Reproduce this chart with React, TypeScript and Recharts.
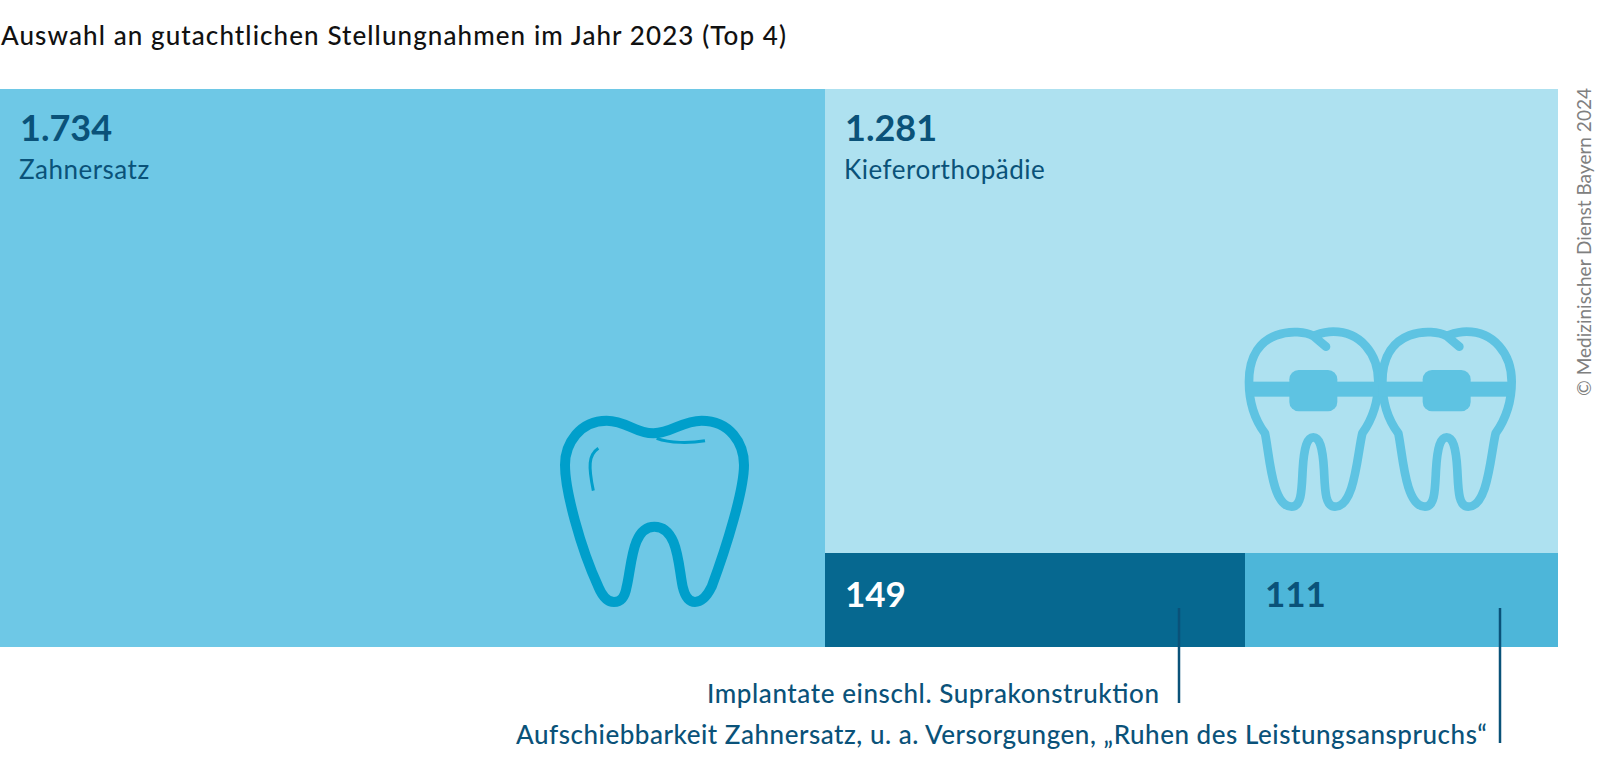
import React from "react";
import { Treemap } from "recharts";

const categories = ["Zahnersatz", "Kieferorthopädie", "Implantate einschl. Suprakonstruktion", "Aufschiebbarkeit Zahnersatz, u. a. Versorgungen, „Ruhen des Leistungsanspruchs“"];
const values = [1734, 1281, 149, 111];
const fills = ["#6EC8E6", "#AEE1F0", "#066890", "#4DB6D9"];
const labelColors = ["#0A5279", "#0A5279", "#FFFFFF", "#0A5279"];
const showName = [true, true, false, false];

const leaves = categories.map((name, i) => ({
  name,
  size: values[i],
  color: fills[i],
  labelColor: labelColors[i],
  showName: showName[i],
}));

// Nested so the library's squarify stacks Kieferorthopädie above the two small cells.
const data = [
  leaves[0],
  { name: "Rest", children: [leaves[1], { name: "Klein", children: [leaves[2], leaves[3]] }] },
];

const FONT = "Lato, 'Noto Sans', sans-serif";
const DARK = "#0A5279";

const Cell = (props: any) => {
  const { x, y, width, height, color, labelColor, showName: withName, name, value, size } = props;
  if (!color) return null;
  const v = value ?? size;
  const small = !withName;
  return (
    <g>
      <rect x={x} y={y} width={width} height={height} fill={color} stroke="none" />
      <text
        x={x + 20}
        y={y + (small ? 54 : 52)}
        fill={labelColor}
        fontFamily={FONT}
        fontSize={small ? 35 : 36}
        fontWeight={700}
        stroke="none"
      >
        {v.toLocaleString("de-DE")}
      </text>
      {withName && (
        <text x={x + 19} y={y + 90} fill={labelColor} fontFamily={FONT} fontSize={26} letterSpacing={0.5} stroke="none">
          {name}
        </text>
      )}
    </g>
  );
};

const BracesTooth = ({ dx }: { dx: number }) => (
  <g transform={`translate(${dx} 0)`}>
    <path
      d="M378 110 L340 78 C300 55 147 50 147 215 C147 280 165 330 195 370 C208 430 215 590 275 590 C305 590 305 540 308 480 C312 410 322 382 340 382 C358 382 368 410 372 480 C375 540 375 590 405 590 C465 590 472 430 487 370 C515 330 535 280 535 215 C535 130 480 65 400 65 C370 65 350 75 340 78"
      fill="none"
      stroke="#5EC3E2"
      strokeWidth={26}
      strokeLinecap="round"
      strokeLinejoin="round"
    />
    <rect x={147} y={215} width={388} height={45} fill="#5EC3E2" />
    <rect x={268} y={180} width={144} height={124} rx={28} fill="#5EC3E2" />
  </g>
);

export default function App() {
  return (
    <div style={{ position: "absolute", left: 0, top: 0, width: 1600, height: 758, background: "#fff", overflow: "hidden" }}>
      <div style={{ position: "absolute", left: 0, top: 89 }}>
        <Treemap
          width={1558}
          height={558}
          data={data}
          dataKey="size"
          nameKey="name"
          type="flat"
          aspectRatio={2.94}
          stroke="none"
          isAnimationActive={false}
          content={<Cell />}
        />
      </div>
      <svg width={1600} height={758} style={{ position: "absolute", left: 0, top: 0, pointerEvents: "none" }}>
        <text x={1} y={45} fontFamily={FONT} fontSize={26} fontWeight={500} fill="#111" textLength={785} lengthAdjust="spacing">
          Auswahl an gutachtlichen Stellungnahmen im Jahr 2023 (Top 4)
        </text>
        <g transform="translate(520 390) scale(0.33333)">
          <path
            d="M400 130 C455 130 485 92 545 92 C630 92 672 160 672 225 C672 300 620 470 575 590 C558 625 540 636 525 636 C505 636 495 620 488 590 C475 530 475 410 403 410 C335 410 335 530 320 590 C315 620 305 636 282 636 C268 636 250 625 235 590 C180 470 135 300 135 225 C135 160 180 92 260 92 C320 92 345 130 400 130 Z"
            fill="none"
            stroke="#009FCB"
            strokeWidth={30}
          />
          <path d="M410 145 C450 160 510 160 555 152" fill="none" stroke="#009FCB" strokeWidth={9} />
          <path d="M235 175 C205 195 205 230 220 302" fill="none" stroke="#009FCB" strokeWidth={9} />
        </g>
        <g transform="translate(1200 310) scale(0.33333)">
          <BracesTooth dx={0} />
          <BracesTooth dx={400} />
        </g>
        <line x1={1179} y1={608} x2={1179} y2={703} stroke={DARK} strokeWidth={2.5} />
        <line x1={1500} y1={608} x2={1500} y2={743} stroke={DARK} strokeWidth={2.5} />
        <text x={1159} y={703} textAnchor="end" fontFamily={FONT} fontSize={26} fontWeight={500} fill={DARK} textLength={452} lengthAdjust="spacing">
          {categories[2]}
        </text>
        <text x={1487} y={744} textAnchor="end" fontFamily={FONT} fontSize={26} fontWeight={500} fill={DARK} textLength={971} lengthAdjust="spacing">
          {categories[3]}
        </text>
        <text
          transform="translate(1591 396) rotate(-90)"
          fontFamily={FONT}
          fontSize={19}
          fill="#808080"
          textLength={308}
          lengthAdjust="spacing"
        >
          © Medizinischer Dienst Bayern 2024
        </text>
      </svg>
    </div>
  );
}
